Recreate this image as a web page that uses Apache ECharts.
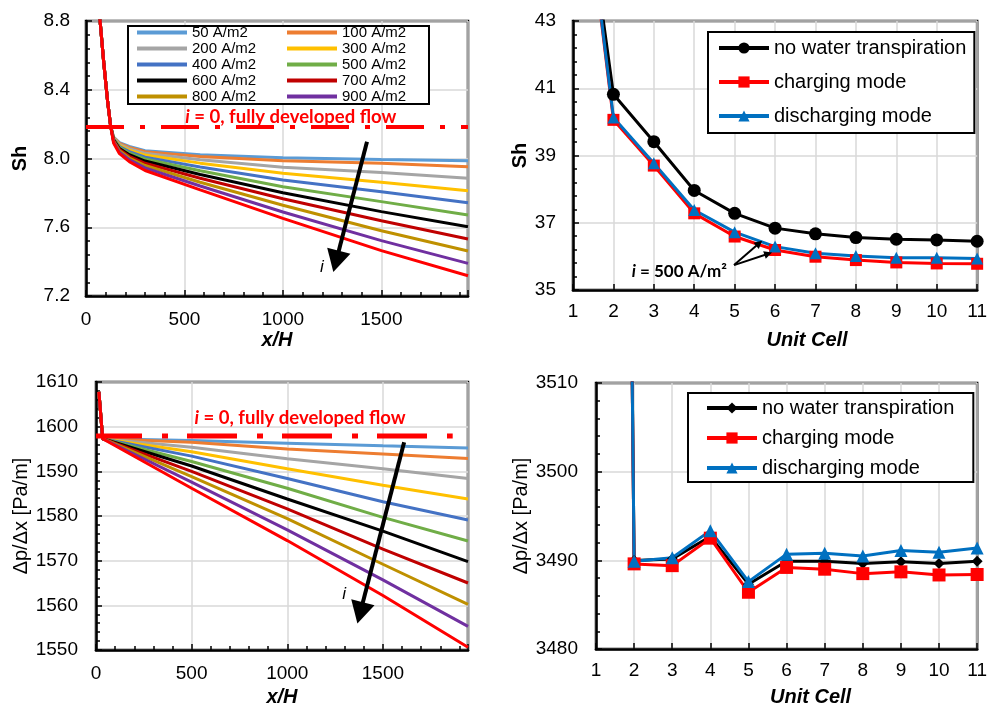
<!DOCTYPE html>
<html>
<head>
<meta charset="utf-8">
<script src="https://cdn.jsdelivr.net/npm/echarts@6/dist/echarts.min.js"></script>
<style>
  html, body { margin: 0; padding: 0; background: #fff; }
  #chart { width: 990px; height: 708px; }
</style>
</head>
<body>
<div id="chart"></div>
<script>
// ---- data ----
const currentNames = ["50 A/m2", "100 A/m2", "200 A/m2", "300 A/m2", "400 A/m2",
  "500 A/m2", "600 A/m2", "700 A/m2", "800 A/m2", "900 A/m2", "1000 A/m2"];

// Sh along the channel (top left)
const shX = [50, 70, 90, 110, 125, 140, 170, 220, 300, 580, 1000, 1500, 1940];
const sh50 = [9.3, 8.82, 8.56, 8.33, 8.19, 8.125, 8.092, 8.07, 8.045, 8.022, 8.005, 7.994, 7.987];
const sh100 = [9.3, 8.82, 8.56, 8.33, 8.19, 8.122, 8.088, 8.065, 8.04, 8.012, 7.987, 7.972, 7.952];
const sh200 = [9.3, 8.82, 8.56, 8.33, 8.19, 8.12, 8.082, 8.057, 8.03, 7.993, 7.949, 7.918, 7.885];
const sh300 = [9.3, 8.82, 8.56, 8.33, 8.19, 8.117, 8.076, 8.048, 8.02, 7.973, 7.914, 7.862, 7.813];
const sh400 = [9.3, 8.82, 8.56, 8.33, 8.19, 8.114, 8.07, 8.04, 8.008, 7.951, 7.875, 7.807, 7.743];
const sh500 = [9.3, 8.82, 8.56, 8.33, 8.19, 8.111, 8.064, 8.031, 7.997, 7.929, 7.836, 7.749, 7.671];
const sh600 = [9.3, 8.82, 8.56, 8.33, 8.19, 8.108, 8.058, 8.022, 7.985, 7.907, 7.801, 7.691, 7.603];
const sh700 = [9.3, 8.82, 8.56, 8.33, 8.19, 8.104, 8.052, 8.013, 7.972, 7.885, 7.766, 7.638, 7.532];
const sh800 = [9.3, 8.82, 8.56, 8.33, 8.19, 8.1, 8.045, 8.003, 7.959, 7.862, 7.728, 7.58, 7.462];
const sh900 = [9.3, 8.82, 8.56, 8.33, 8.19, 8.096, 8.037, 7.993, 7.945, 7.84, 7.689, 7.522, 7.39];
const sh1000 = [9.3, 8.82, 8.56, 8.33, 8.19, 8.09, 8.028, 7.982, 7.93, 7.817, 7.652, 7.464, 7.318];
const shFullyDeveloped = 8.184;

// pressure gradient along the channel (bottom left)
const dpX = [15, 35, 500, 1000, 1500, 1945];
const dp50 = [1607.8, 1597.3, 1596.9, 1596.3, 1595.7, 1595.2];
const dp100 = [1607.8, 1597.3, 1596.5, 1595.0, 1593.9, 1592.9];
const dp200 = [1607.8, 1597.3, 1595.4, 1592.8, 1590.6, 1588.4];
const dp300 = [1607.8, 1597.3, 1594.4, 1590.6, 1586.9, 1583.8];
const dp400 = [1607.8, 1597.3, 1593.4, 1588.4, 1583.2, 1579.1];
const dp500 = [1607.8, 1597.3, 1592.2, 1586.2, 1579.7, 1574.4];
const dp600 = [1607.8, 1597.3, 1591.2, 1583.8, 1576.6, 1569.8];
const dp700 = [1607.8, 1597.3, 1590.0, 1581.6, 1572.6, 1565.0];
const dp800 = [1607.8, 1597.3, 1588.8, 1579.4, 1569.2, 1560.2];
const dp900 = [1607.8, 1597.3, 1587.6, 1576.9, 1565.7, 1555.3];
const dp1000 = [1607.8, 1597.3, 1586.2, 1574.5, 1562.2, 1550.6];
const dpFullyDeveloped = 1597.9;
const dpFullyDevelopedEnd = 1865;

// per unit cell (right column)
const unitCells = [1, 2, 3, 4, 5, 6, 7, 8, 9, 10, 11];
const shNoTransp = [49.6, 40.82, 39.41, 37.96, 37.28, 36.84, 36.67, 36.56, 36.51, 36.49, 36.45];
const shCharging = [49.9, 40.06, 38.70, 37.28, 36.59, 36.19, 35.99, 35.89, 35.82, 35.79, 35.78];
const shDischarging = [50.0, 40.13, 38.77, 37.38, 36.72, 36.29, 36.09, 36.01, 35.96, 35.96, 35.94];
const dpNoTransp = [3900, 3489.98, 3490.16, 3492.68, 3487.31, 3489.9, 3489.9, 3489.64, 3489.83, 3489.64, 3489.9];
const dpCharging = [3900, 3489.6, 3489.4, 3492.5, 3486.4, 3489.2, 3489.0, 3488.5, 3488.7, 3488.35, 3488.4];
const dpDischarging = [3900, 3489.9, 3490.3, 3493.35, 3487.6, 3490.7, 3490.8, 3490.5, 3491.1, 3490.9, 3491.4];

const modeNames = ["no water transpiration", "charging mode", "discharging mode"];

// ---- styling ----
const FONT = '"Liberation Sans", Arial, sans-serif';
const NOTE_FONT = 'Lato, "Open Sans", sans-serif';
const curColors = ["#5B9BD5", "#ED7D31", "#A5A5A5", "#FFC000", "#4472C4", "#70AD47",
  "#000000", "#C00000", "#BF9000", "#7030A0", "#FF0000"];
const modeColors = ["#000000", "#FF0000", "#0070C0"];

const shAll = [sh50, sh100, sh200, sh300, sh400, sh500, sh600, sh700, sh800, sh900, sh1000];
const dpAll = [dp50, dp100, dp200, dp300, dp400, dp500, dp600, dp700, dp800, dp900, dp1000];

function pairs(xs, ys) {
  return xs.map((x, k) => [x, ys[k]]);
}

function axis(idx, o) {
  return Object.assign({
    type: "value",
    gridIndex: idx,
    nameLocation: "middle",
    axisLine: { show: true, onZero: false, lineStyle: { color: "#000", width: 2.5 } },
    axisTick: { show: true, inside: true, length: 6, lineStyle: { color: "#000", width: 1.5 } },
    minorTick: { show: true, splitNumber: 5, length: 4, lineStyle: { color: "#000", width: 1.5 } },
    splitLine: { show: true, lineStyle: { color: "#d9d9d9", width: 1.5 } },
    nameTextStyle: { color: "#000", fontSize: 20, fontFamily: FONT },
  }, o);
}

function tickLabels(margin, fmt) {
  return { color: "#000", fontSize: 19, fontFamily: FONT, margin: margin, formatter: fmt || ((v) => String(v)) };
}

const noteRich = {
  it: { fontStyle: "italic", fontWeight: "bold", color: "#FF0000", fontSize: 18.5, fontFamily: NOTE_FONT },
  b: { fontWeight: "bold", color: "#FF0000", fontSize: 18.5, fontFamily: NOTE_FONT },
};
const arrowLabelRich = { i: { fontStyle: "italic", fontSize: 17, fontFamily: FONT, color: "#000" } };

function textPoint(coord, formatter, rich) {
  return {
    coord: coord,
    symbol: "circle",
    symbolSize: 1,
    itemStyle: { color: "rgba(0,0,0,0)" },
    label: { show: true, position: "inside", formatter: formatter, rich: rich },
  };
}

const series = [];

// top left: Sh curves
currentNames.forEach((name, k) => {
  series.push({
    type: "line", name: name, xAxisIndex: 0, yAxisIndex: 0,
    data: pairs(shX, shAll[k]),
    symbol: "none",
    lineStyle: { color: curColors[k], width: 3 },
    itemStyle: { color: curColors[k] },
  });
});
series.push({
  type: "line", name: "fd-sh", xAxisIndex: 0, yAxisIndex: 0,
  data: [[0, shFullyDeveloped], [1940, shFullyDeveloped]],
  symbol: "none", z: 5,
  lineStyle: { color: "#FF0000", width: 4, type: [38, 16, 5, 16], cap: "butt" },
  markPoint: {
    silent: true,
    data: [
      textPoint([1040, 8.24], "{it|i}{b| = 0, fully developed flow}", noteRich),
      textPoint([1198, 7.37], "{i|i}", arrowLabelRich),
    ],
  },
  markLine: {
    silent: true, symbol: ["none", "triangle"], symbolSize: [24, 22],
    label: { show: false },
    lineStyle: { color: "#000", width: 4, type: "solid" },
    data: [[{ coord: [1427, 8.098] }, { coord: [1270, 7.402] }]],
  },
});

// bottom left: pressure gradient curves
currentNames.forEach((name, k) => {
  series.push({
    type: "line", name: name, xAxisIndex: 2, yAxisIndex: 2,
    data: pairs(dpX, dpAll[k]),
    symbol: "none",
    lineStyle: { color: curColors[k], width: 3 },
    itemStyle: { color: curColors[k] },
  });
});
series.push({
  type: "line", name: "fd-dp", xAxisIndex: 2, yAxisIndex: 2,
  data: [[0, dpFullyDeveloped], [dpFullyDevelopedEnd, dpFullyDeveloped]],
  symbol: "none", z: 5,
  lineStyle: { color: "#FF0000", width: 5, type: [50, 20, 6, 19], dashOffset: 4, cap: "butt" },
  markPoint: {
    silent: true,
    data: [
      textPoint([1067, 1602.0], "{it|i}{b| = 0, fully developed flow}", noteRich),
      textPoint([1297, 1562.5], "{i|i}", arrowLabelRich),
    ],
  },
  markLine: {
    silent: true, symbol: ["none", "triangle"], symbolSize: [24, 22],
    label: { show: false },
    lineStyle: { color: "#000", width: 4, type: "solid" },
    data: [[{ coord: [1611, 1596.5] }, { coord: [1381, 1558.3] }]],
  },
});

// right column: per unit cell
const shModes = [shNoTransp, shCharging, shDischarging];
const dpModes = [dpNoTransp, dpCharging, dpDischarging];
const shSymbols = ["circle", "rect", "triangle"];
const dpSymbols = ["diamond", "rect", "triangle"];
modeNames.forEach((name, k) => {
  series.push({
    type: "line", name: name, xAxisIndex: 1, yAxisIndex: 1,
    data: pairs(unitCells, shModes[k]),
    symbol: shSymbols[k], symbolSize: k === 0 ? 13 : 12, showAllSymbol: true,
    lineStyle: { color: modeColors[k], width: 3 },
    itemStyle: { color: modeColors[k] },
  });
});
modeNames.forEach((name, k) => {
  series.push({
    type: "line", name: name + " ", xAxisIndex: 3, yAxisIndex: 3,
    data: pairs(unitCells, dpModes[k]),
    symbol: dpSymbols[k], symbolSize: k === 0 ? 11 : 13, showAllSymbol: true,
    lineStyle: { color: modeColors[k], width: 3 },
    itemStyle: { color: modeColors[k] },
  });
});
// annotation i = 500 A/m2 with two small arrows
series.push({
  type: "line", name: "note-500", xAxisIndex: 1, yAxisIndex: 1,
  data: [], symbol: "none",
  markPoint: {
    silent: true,
    data: [textPoint([3.63, 35.545], "{it|i}{b| = 500 A/m²}", {
      it: { fontStyle: "italic", fontWeight: "bold", color: "#000", fontSize: 17, fontFamily: NOTE_FONT },
      b: { fontWeight: "bold", color: "#000", fontSize: 17, fontFamily: NOTE_FONT },
    })],
  },
  markLine: {
    silent: true, symbol: ["none", "triangle"], symbolSize: [8, 8],
    label: { show: false },
    lineStyle: { color: "#000", width: 2, type: "solid" },
    data: [
      [{ coord: [4.985, 35.74] }, { coord: [5.606, 36.39] }],
      [{ coord: [4.985, 35.74] }, { coord: [5.832, 36.08] }],
    ],
  },
});

const legendBase = {
  orient: "vertical", padding: 0, itemWidth: 50, selectedMode: false,
  textStyle: { color: "#000", fontFamily: FONT },
};
const smallLegendText = { color: "#000", fontFamily: FONT, fontSize: 15, lineHeight: 15 };
const bigLegendText = { color: "#000", fontFamily: FONT, fontSize: 20, lineHeight: 20 };
const boldItalic = { color: "#000", fontSize: 20, fontFamily: FONT, fontWeight: "bold", fontStyle: "italic" };

const option = {
  animation: false,
  backgroundColor: "#fff",
  grid: [
    { left: 86, top: 21, width: 382, height: 275, show: true, borderColor: "#000", borderWidth: 2.5 },
    { left: 573, top: 21, width: 407, height: 269, show: true, borderColor: "#000", borderWidth: 2.5 },
    { left: 96, top: 382, width: 372, height: 271, show: true, borderColor: "#000", borderWidth: 2.5 },
    { left: 596, top: 383, width: 384, height: 269, show: true, borderColor: "#000", borderWidth: 2.5 },
  ],
  xAxis: [
    axis(0, { min: 0, max: 1940, interval: 500, name: "x/H", nameGap: 34,
      nameTextStyle: boldItalic,
      axisLabel: Object.assign(tickLabels(14), { showMaxLabel: false }) }),
    axis(1, { min: 1, max: 11, interval: 1, name: "Unit Cell", nameGap: 40,
      minorTick: { show: false },
      nameTextStyle: Object.assign({}, boldItalic, { padding: [0, 0, 0, 64] }),
      axisLabel: tickLabels(12) }),
    axis(2, { min: 0, max: 1945, interval: 500, name: "x/H", nameGap: 37,
      nameTextStyle: boldItalic,
      axisLabel: Object.assign(tickLabels(14), { showMaxLabel: false }) }),
    axis(3, { min: 1, max: 11, interval: 1, name: "Unit Cell", nameGap: 38,
      minorTick: { show: false },
      nameTextStyle: Object.assign({}, boldItalic, { padding: [0, 0, 0, 48] }),
      axisLabel: tickLabels(12) }),
  ],
  yAxis: [
    axis(0, { min: 7.2, max: 8.8, interval: 0.4, name: "Sh", nameGap: 56,
      nameTextStyle: { color: "#000", fontSize: 20, fontFamily: FONT, fontWeight: "bold" },
      axisLabel: tickLabels(16, (v) => v.toFixed(1)) }),
    axis(1, { min: 35, max: 43, interval: 2, name: "Sh", nameGap: 40,
      nameTextStyle: { color: "#000", fontSize: 20, fontFamily: FONT, fontWeight: "bold" },
      axisLabel: tickLabels(17) }),
    axis(2, { min: 1550, max: 1610, interval: 10, name: "\u0394p/\u0394x [Pa/m]", nameGap: 59,
      nameTextStyle: { color: "#000", fontSize: 20, fontFamily: FONT, padding: [0, 0, 0, 0] },
      axisLabel: tickLabels(18) }),
    axis(3, { min: 3480, max: 3510, interval: 10, name: "\u0394p/\u0394x [Pa/m]", nameGap: 59,
      axisLabel: tickLabels(18) }),
  ],
  legend: [
    Object.assign({}, legendBase, {
      left: 137, top: 25, icon: "rect", itemHeight: 4, itemGap: 1,
      textStyle: smallLegendText,
      data: ["50 A/m2", "200 A/m2", "400 A/m2", "600 A/m2", "800 A/m2"],
    }),
    Object.assign({}, legendBase, {
      left: 287, top: 25, icon: "rect", itemHeight: 4, itemGap: 1,
      textStyle: smallLegendText,
      data: ["100 A/m2", "300 A/m2", "500 A/m2", "700 A/m2", "900 A/m2"],
    }),
    Object.assign({}, legendBase, {
      left: 708, top: 32, padding: [6, 8, 7, 9], itemHeight: 14, itemGap: 14,
      borderColor: "#000", borderWidth: 2, backgroundColor: "#fff",
      textStyle: bigLegendText,
      lineStyle: { width: 4 },
      data: modeNames,
    }),
    Object.assign({}, legendBase, {
      left: 688, top: 393, padding: [5, 19, 4, 17], itemHeight: 14, itemGap: 10,
      borderColor: "#000", borderWidth: 2, backgroundColor: "#fff",
      textStyle: bigLegendText,
      lineStyle: { width: 4 },
      formatter: (name) => name.trim(),
      data: modeNames.map((n) => n + " "),
    }),
  ],
  graphic: [
    {
      type: "rect", left: 127, top: 25, z: 3,
      shape: { width: 301, height: 78 },
      style: { fill: "#fff", stroke: "#000", lineWidth: 2 },
    },
  ],
  series: series,
};

const myChart = echarts.init(document.getElementById("chart"));
myChart.setOption(option);
</script>
</body>
</html>
